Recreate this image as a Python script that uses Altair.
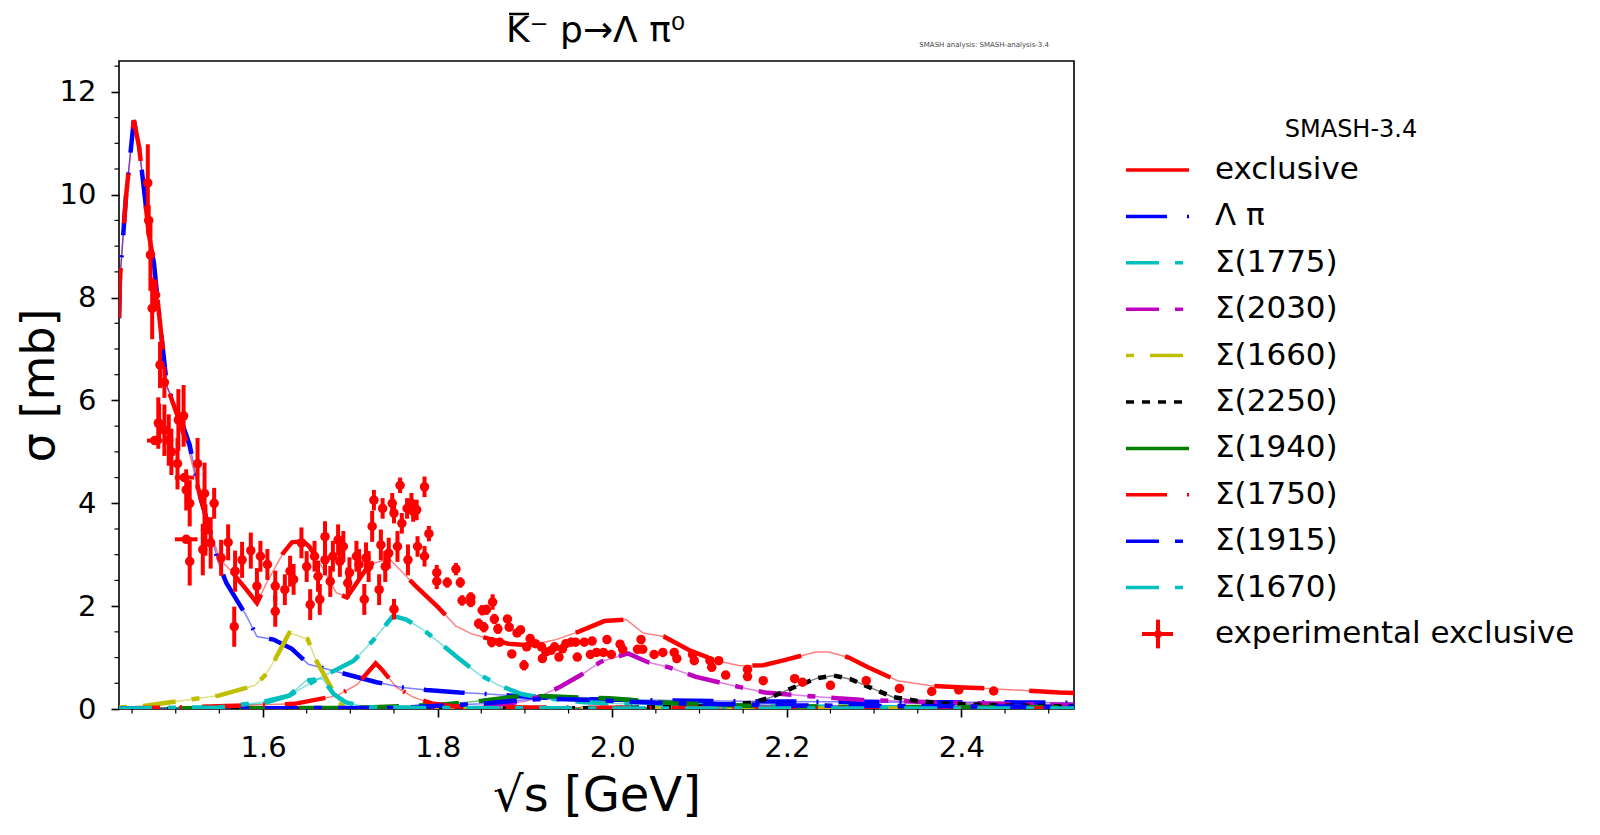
import altair as alt
import pandas as pd

# ---------------- model curves ----------------
exc_x = [1.435, 1.436, 1.443, 1.452, 1.458, 1.465, 1.469, 1.475, 1.482, 1.490, 1.501, 1.514, 1.528, 1.539,
         1.551, 1.562, 1.581, 1.593, 1.604, 1.623, 1.633, 1.646, 1.653, 1.668, 1.684, 1.696, 1.722, 1.745,
         1.775, 1.801, 1.821, 1.839, 1.858, 1.881, 1.904, 1.934, 1.961, 1.991, 2.016, 2.035, 2.059, 2.090,
         2.120, 2.146, 2.173, 2.195, 2.233, 2.248, 2.271, 2.293, 2.327, 2.365, 2.403, 2.440, 2.512, 2.529]
exc_y = [7.6, 8.34, 9.96, 11.45, 10.93, 9.9, 9.25, 8.67, 7.5, 6.27, 5.75, 5.1, 4.13, 3.48,
         2.90, 2.71, 2.32, 2.06, 2.45, 3.03, 3.24, 3.26, 3.16, 2.75, 2.26, 2.17, 2.82, 2.91,
         2.39, 1.97, 1.61, 1.46, 1.37, 1.27, 1.24, 1.34, 1.50, 1.71, 1.74, 1.48, 1.41, 1.13,
         0.94, 0.84, 0.85, 0.94, 1.11, 1.11, 1.00, 0.81, 0.55, 0.45, 0.42, 0.39, 0.32, 0.31]

lp_x = [1.435, 1.436, 1.443, 1.452, 1.458, 1.465, 1.469, 1.475, 1.482, 1.490, 1.503, 1.516, 1.528, 1.539,
        1.549, 1.558, 1.581, 1.593, 1.612, 1.633, 1.652, 1.688, 1.730, 1.760, 1.787, 1.825, 1.857, 1.913,
        1.966, 2.05, 2.15, 2.25, 2.35, 2.45, 2.529]
lp_y = [7.6, 8.34, 9.96, 11.45, 10.93, 9.9, 9.25, 8.67, 7.5, 6.27, 5.77, 5.13, 4.13, 3.48,
        2.84, 2.45, 1.81, 1.41, 1.35, 1.17, 0.87, 0.71, 0.52, 0.42, 0.37, 0.32, 0.29, 0.23,
        0.19, 0.17, 0.15, 0.14, 0.13, 0.13, 0.12]

s1775_x = [1.435, 1.55, 1.598, 1.630, 1.659, 1.681, 1.704, 1.727, 1.749, 1.764, 1.783, 1.802, 1.825,
           1.847, 1.870, 1.896, 1.915, 1.968, 2.05, 2.2, 2.35, 2.529]
s1775_y = [0.01, 0.03, 0.10, 0.26, 0.55, 0.74, 0.94, 1.35, 1.81, 1.74, 1.55, 1.29, 0.97,
           0.68, 0.46, 0.29, 0.23, 0.13, 0.08, 0.05, 0.03, 0.02]

s2030_x = [1.435, 1.7, 1.80, 1.86, 1.90, 1.916, 1.938, 1.964, 1.987, 2.018, 2.041, 2.065, 2.095,
           2.122, 2.148, 2.175, 2.227, 2.258, 2.284, 2.318, 2.367, 2.442, 2.529]
s2030_y = [0.01, 0.01, 0.02, 0.06, 0.15, 0.24, 0.41, 0.66, 0.92, 1.08, 0.91, 0.81, 0.63,
           0.52, 0.42, 0.32, 0.25, 0.21, 0.18, 0.16, 0.13, 0.10, 0.08]

s1660_x = [1.435, 1.463, 1.519, 1.549, 1.591, 1.602, 1.614, 1.630, 1.651, 1.661, 1.676, 1.689, 1.693,
           1.75, 1.9, 2.1, 2.3, 2.529]
s1660_y = [0.03, 0.06, 0.19, 0.26, 0.46, 0.65, 0.97, 1.48, 1.36, 0.94, 0.48, 0.10, 0.03,
           0.02, 0.01, 0.01, 0.01, 0.01]

s2250_x = [1.435, 1.9, 2.0, 2.1, 2.16, 2.182, 2.212, 2.235, 2.254, 2.273, 2.295, 2.322, 2.348, 2.386,
           2.461, 2.529]
s2250_y = [0.0, 0.01, 0.02, 0.05, 0.12, 0.23, 0.45, 0.60, 0.65, 0.58, 0.42, 0.23, 0.16, 0.10,
           0.065, 0.05]

s1940_x = [1.435, 1.7, 1.8, 1.851, 1.889, 1.927, 1.97, 1.997, 2.072, 2.16, 2.3, 2.529]
s1940_y = [0.01, 0.02, 0.08, 0.16, 0.24, 0.25, 0.22, 0.21, 0.11, 0.06, 0.04, 0.03]

s1750_x = [1.435, 1.500, 1.636, 1.685, 1.708, 1.729, 1.736, 1.753, 1.772, 1.795, 1.821, 1.9, 2.1,
           2.3, 2.529]
s1750_y = [0.01, 0.03, 0.10, 0.26, 0.48, 0.89, 0.77, 0.42, 0.23, 0.10, 0.05, 0.03, 0.02,
           0.02, 0.01]

s1915_x = [1.435, 1.75, 1.85, 1.90, 1.93, 1.97, 2.05, 2.2, 2.529]
s1915_y = [0.01, 0.02, 0.10, 0.18, 0.20, 0.18, 0.12, 0.07, 0.04]

s1670_x = [1.435, 1.549, 1.598, 1.630, 1.649, 1.668, 1.681, 1.695, 1.712, 1.727, 1.8, 2.0, 2.529]
s1670_y = [0.01, 0.03, 0.13, 0.26, 0.55, 0.59, 0.29, 0.13, 0.06, 0.03, 0.02, 0.01, 0.01]

# ---------------- experimental data ----------------
exp_x = [1.468, 1.469, 1.471, 1.473, 1.477, 1.482, 1.487, 1.480, 1.476, 1.503, 1.509, 1.481, 1.487,
         1.492, 1.495, 1.502, 1.510, 1.512, 1.525, 1.516, 1.533, 1.544, 1.534, 1.540, 1.531, 1.512,
         1.516, 1.552, 1.560, 1.568, 1.576, 1.586, 1.567, 1.593, 1.597, 1.605, 1.614, 1.614, 1.625,
         1.631, 1.635, 1.644, 1.650, 1.654, 1.659, 1.663, 1.665, 1.671, 1.671, 1.677, 1.680, 1.686,
         1.688, 1.692, 1.697, 1.699, 1.707, 1.710, 1.716, 1.718, 1.721, 1.725, 1.727, 1.733, 1.735,
         1.737, 1.740, 1.744, 1.748, 1.750, 1.750, 1.754, 1.757, 1.759, 1.765, 1.766, 1.770, 1.772,
         1.776, 1.777, 1.785, 1.785, 1.790, 1.799, 1.799,
         1.811, 1.821, 1.826, 1.828, 1.838, 1.838, 1.851, 1.856, 1.847, 1.853, 1.862, 1.863, 1.865,
         1.869, 1.871, 1.880, 1.882, 1.885, 1.891, 1.895, 1.899, 1.902, 1.906, 1.912, 1.919, 1.920,
         1.924, 1.930, 1.934, 1.939, 1.943, 1.947, 1.953, 1.958, 1.960, 1.968,
         1.975, 1.977, 1.982, 1.990, 1.994, 1.999, 2.009, 2.012, 2.029, 2.033, 2.035, 2.048, 2.058,
         2.071, 2.074, 2.092, 2.094, 2.112, 2.114, 2.122, 2.130, 2.155, 2.155, 2.173, 2.209, 2.218,
         2.250, 2.291, 2.329, 2.366, 2.397, 2.437]
exp_y = [10.23, 9.5, 8.83, 7.79, 8.05, 6.69, 6.35, 5.56, 5.22, 5.62, 5.70, 5.55, 5.42,
         5.23, 5.00, 4.77, 4.50, 4.26, 4.77, 4.00, 4.19, 4.00, 3.48, 3.23, 3.10, 3.30,
         2.87, 2.94, 3.24, 2.68, 2.90, 3.08, 1.60, 2.39, 2.97, 2.81, 2.39, 1.90, 2.32,
         2.68, 2.52, 3.23, 2.77, 2.03, 2.97, 2.58, 2.13, 3.35, 2.90, 2.48, 2.97, 3.29,
         2.87, 3.16, 2.45, 2.65, 2.97, 2.81, 2.13, 2.94, 2.77, 3.55, 4.06, 2.32, 3.19,
         3.90, 2.77, 3.03, 4.00, 1.94, 3.81, 3.16, 4.35, 3.61, 3.90, 2.90, 4.00, 3.84,
         3.87, 3.16, 4.32, 2.97, 3.41, 2.65, 2.48,
         2.46, 2.72, 2.46, 2.11, 2.08, 2.17, 1.92, 1.93, 1.66, 1.59, 1.30, 2.08, 1.75,
         1.56, 1.30, 1.75, 1.59, 1.07, 1.48, 1.54, 0.85, 1.21, 1.37, 1.27, 1.21, 0.98,
         1.11, 1.14, 1.21, 1.01, 1.17, 1.27, 1.30, 1.30, 1.01, 1.30,
         1.06, 1.32, 1.10, 1.10, 1.35, 1.06, 1.26, 1.16, 1.16, 1.35, 1.16, 1.06, 1.10,
         1.10, 0.98, 1.06, 0.94, 0.94, 0.81, 0.94, 0.66, 0.77, 0.63, 0.55, 0.59, 0.52,
         0.46, 0.55, 0.40, 0.34, 0.37, 0.35]
exp_yerr = [0.75, 0.3, 0.7, 0.6, 0.3, 0.45, 0.3, 0.5, 0.05, 0.6, 0.6, 0.39, 0.5,
            0.5, 0.45, 0.5, 0.05, 0.4, 0.5, 0.45, 0.6, 0.3, 0.5, 0.5, 0.5, 0.05,
            0.47, 0.35, 0.35, 0.4, 0.35, 0.35, 0.39, 0.35, 0.3, 0.3, 0.3, 0.3, 0.3,
            0.3, 0.3, 0.3, 0.3, 0.3, 0.3, 0.3, 0.3, 0.3, 0.3, 0.3, 0.3, 0.3,
            0.3, 0.3, 0.3, 0.3, 0.3, 0.3, 0.3, 0.3, 0.3, 0.3, 0.2, 0.3, 0.3,
            0.2, 0.3, 0.3, 0.2, 0.2, 0.2, 0.3, 0.15, 0.2, 0.2, 0.3, 0.2, 0.2,
            0.2, 0.2, 0.2, 0.2, 0.15, 0.15, 0.15,
            0.1, 0.12, 0.1, 0.1, 0.1, 0.1, 0.1, 0.1, 0.1, 0.1, 0.1, 0.15, 0.1,
            0.1, 0.05, 0.05, 0.05, 0.05, 0.05, 0.05, 0.1, 0.05, 0.05, 0.05, 0.05, 0.05,
            0.05, 0.05, 0.05, 0.05, 0.05, 0.05, 0.05, 0.05, 0.05, 0.05,
            0.03, 0.03, 0.03, 0.03, 0.03, 0.03, 0.03, 0.03, 0.03, 0.03, 0.03, 0.03, 0.03,
            0.03, 0.03, 0.03, 0.03, 0.03, 0.03, 0.03, 0.03, 0.03, 0.03, 0.03, 0.03, 0.03,
            0.03, 0.03, 0.03, 0.03, 0.03, 0.03]
exp_xerr = [0.0] * len(exp_x)
exp_xerr[8] = 0.009
exp_xerr[16] = 0.011
exp_xerr[25] = 0.013

# ---------------- series / legend definitions ----------------
names = ["exclusive", "Λ π", "Σ(1775)", "Σ(2030)", "Σ(1660)", "Σ(2250)", "Σ(1940)", "Σ(1750)",
         "Σ(1915)", "Σ(1670)"]
colors = ["#ff0000", "#0000ff", "#00bfbf", "#bf00bf", "#bfbf00", "#000000", "#008000", "#ff0000",
          "#0000ff", "#00bfbf"]
xs_list = [exc_x, lp_x, s1775_x, s2030_x, s1660_x, s2250_x, s1940_x, s1750_x, s1915_x, s1670_x]
ys_list = [exc_y, lp_y, s1775_y, s2030_y, s1660_y, s2250_y, s1940_y, s1750_y, s1915_y, s1670_y]
legend_dash = [[1, 0], [41, 20, 2, 20], [33, 16, 8, 16], [33, 16, 8, 16], [8, 16, 33, 16], [8, 8],
               [1, 0], [41, 20, 2, 20], [33, 16, 8, 16], [33, 16, 8, 16]]
plot_dash = [[50, 45], [41, 20, 2, 20], [33, 16, 8, 16], [33, 16, 8, 16], [8, 16, 33, 16], [8, 8],
             [40, 20], [41, 20, 2, 20], [33, 16, 8, 16], [33, 16, 8, 16]]
exp_label = "experimental exclusive"
legend_title = "SMASH-3.4"
title_text = "K\u207b p\u2192\u039b \u03c0\u2070"   # the bar over K is drawn as an overline rule
note_text = "SMASH analysis: SMASH-analysis-3.4"

x_major = [1.6, 1.8, 2.0, 2.2, 2.4]
y_major = [0, 2, 4, 6, 8, 10, 12]
x_minor = [1.45, 1.5, 1.55, 1.65, 1.7, 1.75, 1.85, 1.9, 1.95, 2.05, 2.1, 2.15, 2.25, 2.3, 2.35, 2.45, 2.5]
y_minor = [0.5, 1, 1.5, 2.5, 3, 3.5, 4.5, 5, 5.5, 6.5, 7, 7.5, 8.5, 9, 9.5, 10.5, 11, 11.5, 12.5]

# ---------------- build tables ----------------
rows = []
for n, xv, yv in zip(names, xs_list, ys_list):
    for a, b in zip(xv, yv):
        rows.append({"name": n, "x": a, "y": b})
lines = pd.DataFrame(rows)
exp = pd.DataFrame({"x": exp_x, "y": exp_y, "yerr": exp_yerr, "xerr": exp_xerr})
leg = pd.DataFrame({"row": list(range(len(names))), "name": names})
leg_lab = pd.DataFrame({"row": list(range(len(names) + 1)), "label": names + [exp_label]})
leg_exp = pd.DataFrame({"row": [len(names)], "name": [exp_label]})

W, H = 955, 648
FONT = "DejaVu Sans"
xscale = alt.Scale(domain=[1.435, 2.529], nice=False, zero=False)
yscale = alt.Scale(domain=[0, 12.6], nice=False, zero=False)
xaxis = alt.Axis(values=x_major, format=".1f", title="√s [GeV]")
yaxis = alt.Axis(values=y_major, format="d", title="σ [mb]")
cscale = alt.Scale(domain=names + [exp_label], range=colors + ["#ff0000"])


def X(f):
    return alt.X(f, scale=xscale, axis=xaxis)


def Y(f):
    return alt.Y(f, scale=yscale, axis=yaxis)


layers = []
# minor ticks
layers.append(alt.Chart(pd.DataFrame({"v": x_minor})).mark_rule(color="black", strokeWidth=1.2).encode(
    x=X("v:Q"), y=alt.value(H), y2=alt.value(H + 4.5)))
layers.append(alt.Chart(pd.DataFrame({"v": y_minor})).mark_rule(color="black", strokeWidth=1.2).encode(
    y=Y("v:Q"), x=alt.value(0), x2=alt.value(-4.5)))

# thin full curves
layers.append(alt.Chart(lines).mark_line(strokeWidth=1.5, opacity=0.5, clip=True).encode(
    x=X("x:Q"), y=Y("y:Q"), color=alt.Color("name:N", scale=cscale, legend=None), detail="name:N"))

# thick dashed curves, components first, exclusive on top
order = list(range(1, len(names))) + [0]
for i in order:
    layers.append(alt.Chart(lines).transform_filter(
        alt.FieldEqualPredicate(field="name", equal=names[i])
    ).mark_line(strokeWidth=4.5, strokeDash=plot_dash[i], clip=True).encode(
        x=X("x:Q"), y=Y("y:Q"), color=alt.value(colors[i])))

# experimental error bars and points
layers.append(alt.Chart(exp).transform_calculate(
    lo="datum.y - datum.yerr", hi="datum.y + datum.yerr"
).mark_rule(color="#ff0000", strokeWidth=4, clip=True).encode(
    x=X("x:Q"), y=Y("lo:Q"), y2="hi:Q"))
layers.append(alt.Chart(exp).transform_filter("datum.xerr > 0").transform_calculate(
    xlo="datum.x - datum.xerr", xhi="datum.x + datum.xerr"
).mark_rule(color="#ff0000", strokeWidth=4, clip=True).encode(
    x=X("xlo:Q"), x2="xhi:Q", y=Y("y:Q")))
layers.append(alt.Chart(exp).mark_circle(color="#ff0000", opacity=1, size=90, clip=True).encode(
    x=X("x:Q"), y=Y("y:Q")))

# title (with the bar over K) and small note
TX = 387
layers.append(alt.Chart(pd.DataFrame({"t": [title_text]})).mark_text(
    font=FONT, fontSize=36, align="left", baseline="alphabetic", color="black").encode(
    x=alt.value(TX), y=alt.value(-19), text="t:N"))
layers.append(alt.Chart(pd.DataFrame({"t": [title_text]})).mark_rule(color="black", strokeWidth=2.5).encode(
    x=alt.value(TX + 3), x2=alt.value(TX + 23), y=alt.value(-47)))
layers.append(alt.Chart(pd.DataFrame({"t": [note_text]})).mark_text(
    font=FONT, fontSize=7, align="right", baseline="alphabetic", color="#444444").encode(
    x=alt.value(W - 25), y=alt.value(-14), text="t:N"))

main = alt.layer(*layers)

# ---------------- legend ----------------
ly = alt.Scale(domain=[0, 10], range=[109, 573])
LX0, LX1, LTX = 1007, 1070, 1096
leg_layers = [
    alt.Chart(leg).mark_rule(strokeWidth=3.5).encode(
        x=alt.value(LX0), x2=alt.value(LX1),
        y=alt.Y("row:Q", scale=ly, axis=None),
        color=alt.Color("name:N", scale=cscale, legend=None),
        strokeDash=alt.StrokeDash("name:N", scale=alt.Scale(domain=names, range=legend_dash), legend=None)),
    alt.Chart(leg_lab).mark_text(font=FONT, fontSize=31, align="left", baseline="middle", color="black").encode(
        x=alt.value(LTX), y=alt.Y("row:Q", scale=ly, axis=None), text="label:N"),
    alt.Chart(pd.DataFrame({"t": [legend_title]})).mark_text(
        font=FONT, fontSize=24, align="center", baseline="middle", color="black").encode(
        x=alt.value(1232), y=alt.value(69), text="t:N"),
    alt.Chart(leg_exp).mark_rule(color="#ff0000", strokeWidth=4).encode(
        x=alt.value(1023), x2=alt.value(1054), y=alt.Y("row:Q", scale=ly, axis=None)),
    alt.Chart(leg_exp).transform_calculate(lo="datum.row - 0.31", hi="datum.row + 0.31").mark_rule(
        color="#ff0000", strokeWidth=4).encode(
        x=alt.value(1039), y=alt.Y("lo:Q", scale=ly, axis=None), y2="hi:Q"),
    alt.Chart(leg_exp).mark_circle(color="#ff0000", opacity=1, size=60).encode(
        x=alt.value(1039), y=alt.Y("row:Q", scale=ly, axis=None)),
]
legend = alt.layer(*leg_layers)

chart = alt.layer(main, legend).resolve_scale(y="independent").properties(
    width=W, height=H,
    autosize=alt.AutoSizeParams(type="none"),
    padding={"left": 111, "top": 53, "right": 1584 - 111 - W, "bottom": 812 - 53 - H},
).configure_view(stroke="black", strokeWidth=1.6).configure_axis(
    labelFont=FONT, titleFont=FONT, labelFontSize=29, titleFontSize=48, titleFontWeight="normal",
    labelColor="black", titleColor="black", tickColor="black", tickWidth=1.6, tickSize=8,
    grid=False, domain=False,
).configure_axisX(labelPadding=16, titlePadding=10).configure_axisY(
    labelPadding=15, titlePadding=-4, titleFontSize=46)

chart.save("out.html", embed_options={"renderer": "svg", "actions": False})
